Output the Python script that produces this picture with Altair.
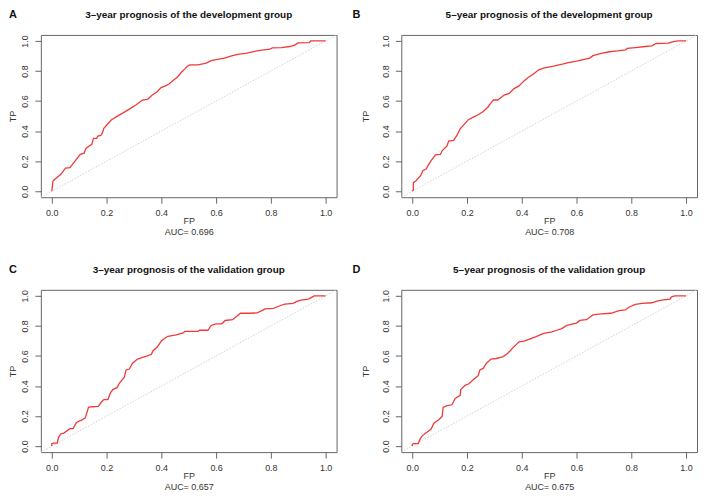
import altair as alt
import pandas as pd

FONT = "Liberation Sans"
TICKS = [0.0, 0.2, 0.4, 0.6, 0.8, 1.0]
DIAG = [-0.04, 1.04]

# (FP, TP) points
A_PTS = [(0, 0), (0.004, 0.066), (0.011, 0.079), (0.032, 0.111), (0.050, 0.153), (0.066, 0.157),
         (0.086, 0.203), (0.104, 0.245), (0.118, 0.253), (0.125, 0.286), (0.146, 0.312), (0.152, 0.352),
         (0.164, 0.352), (0.168, 0.367), (0.179, 0.371), (0.185, 0.389), (0.190, 0.419), (0.200, 0.439),
         (0.217, 0.474), (0.238, 0.498), (0.259, 0.520), (0.283, 0.546), (0.307, 0.574), (0.331, 0.607),
         (0.349, 0.611), (0.367, 0.640), (0.385, 0.662), (0.399, 0.690), (0.415, 0.701), (0.427, 0.712),
         (0.444, 0.738), (0.459, 0.760), (0.474, 0.793), (0.486, 0.814), (0.494, 0.830), (0.504, 0.841),
         (0.534, 0.841), (0.564, 0.852), (0.582, 0.869), (0.600, 0.876), (0.630, 0.886), (0.660, 0.902),
         (0.684, 0.913), (0.708, 0.917), (0.732, 0.928), (0.767, 0.939), (0.797, 0.945), (0.805, 0.954),
         (0.839, 0.956), (0.869, 0.963), (0.887, 0.972), (0.899, 0.987), (0.940, 0.989), (0.946, 1.0),
         (1.0, 1.0)]

B_PTS = [(0, 0), (0.004, 0.010), (0.004, 0.057), (0.013, 0.068), (0.031, 0.105), (0.039, 0.138),
         (0.051, 0.148), (0.059, 0.175), (0.069, 0.203), (0.085, 0.242), (0.103, 0.245), (0.109, 0.269),
         (0.127, 0.301), (0.133, 0.334), (0.151, 0.338), (0.163, 0.371), (0.175, 0.415), (0.189, 0.443),
         (0.205, 0.476), (0.223, 0.493), (0.241, 0.509), (0.259, 0.531), (0.276, 0.559), (0.288, 0.590),
         (0.297, 0.607), (0.312, 0.607), (0.336, 0.640), (0.354, 0.651), (0.372, 0.683), (0.390, 0.701),
         (0.408, 0.734), (0.426, 0.760), (0.444, 0.782), (0.462, 0.808), (0.480, 0.819), (0.516, 0.832),
         (0.552, 0.847), (0.570, 0.856), (0.600, 0.865), (0.624, 0.876), (0.648, 0.886), (0.660, 0.902),
         (0.690, 0.917), (0.720, 0.928), (0.750, 0.934), (0.779, 0.941), (0.785, 0.950), (0.815, 0.956),
         (0.851, 0.963), (0.875, 0.967), (0.891, 0.983), (0.935, 0.985), (0.953, 0.996), (0.971, 1.0),
         (1.0, 1.0)]

C_PTS = [(0, 0), (0, 0.017), (0.006, 0.020), (0.020, 0.020), (0.024, 0.055), (0.032, 0.081),
         (0.044, 0.087), (0.066, 0.116), (0.078, 0.116), (0.090, 0.157), (0.110, 0.175), (0.122, 0.186),
         (0.134, 0.258), (0.146, 0.262), (0.170, 0.264), (0.182, 0.295), (0.190, 0.310), (0.205, 0.310),
         (0.214, 0.354), (0.223, 0.376), (0.238, 0.389), (0.247, 0.419), (0.265, 0.459), (0.271, 0.507),
         (0.283, 0.513), (0.295, 0.552), (0.313, 0.579), (0.331, 0.590), (0.349, 0.600), (0.364, 0.611),
         (0.369, 0.633), (0.385, 0.659), (0.400, 0.699), (0.415, 0.721), (0.424, 0.731), (0.450, 0.738),
         (0.480, 0.753), (0.486, 0.764), (0.534, 0.764), (0.540, 0.771), (0.570, 0.771), (0.582, 0.803),
         (0.600, 0.814), (0.621, 0.814), (0.633, 0.836), (0.660, 0.841), (0.671, 0.858), (0.689, 0.884),
         (0.719, 0.884), (0.749, 0.886), (0.767, 0.902), (0.779, 0.913), (0.809, 0.917), (0.833, 0.934),
         (0.851, 0.945), (0.881, 0.950), (0.893, 0.961), (0.910, 0.972), (0.937, 0.978), (0.952, 0.993),
         (0.958, 1.0), (1.0, 1.0)]

D_PTS = [(0, 0), (0, 0.011), (0.005, 0.017), (0.022, 0.017), (0.029, 0.048), (0.037, 0.070),
         (0.055, 0.094), (0.069, 0.114), (0.079, 0.153), (0.097, 0.175), (0.109, 0.197), (0.113, 0.258),
         (0.127, 0.269), (0.145, 0.275), (0.157, 0.317), (0.175, 0.338), (0.177, 0.376), (0.193, 0.404),
         (0.207, 0.415), (0.223, 0.441), (0.241, 0.469), (0.247, 0.507), (0.259, 0.517), (0.271, 0.552),
         (0.288, 0.579), (0.306, 0.583), (0.330, 0.594), (0.345, 0.611), (0.357, 0.633), (0.372, 0.662),
         (0.390, 0.694), (0.408, 0.699), (0.426, 0.710), (0.450, 0.727), (0.480, 0.750), (0.510, 0.760),
         (0.528, 0.771), (0.546, 0.782), (0.564, 0.803), (0.588, 0.814), (0.600, 0.819), (0.612, 0.836),
         (0.636, 0.841), (0.660, 0.873), (0.690, 0.880), (0.726, 0.884), (0.755, 0.902), (0.779, 0.906),
         (0.791, 0.924), (0.815, 0.943), (0.839, 0.950), (0.875, 0.954), (0.893, 0.965), (0.911, 0.972),
         (0.941, 0.978), (0.947, 0.993), (0.959, 1.0), (1.0, 1.0)]

LETTERS = ["A", "B", "C", "D"]
TITLES = ["3–year prognosis of the development group",
          "5–year prognosis of the development group",
          "3–year prognosis of the validation group",
          "5–year prognosis of the validation group"]
AUCS = ["AUC= 0.696", "AUC= 0.708", "AUC= 0.657", "AUC= 0.675"]
SERIES = [A_PTS, B_PTS, C_PTS, D_PTS]

W, H = 297, 163


def axes(i):
    left = i % 2 == 0
    x_axis = alt.Axis(values=TICKS, format=".1f", title=["FP", AUCS[i]],
                      labelOverlap=False, labelFlush=False,
                      titleY=19.5, titleBaseline="top", titleLineHeight=11,
                      titleAlign="center", titleX=W / 2)
    y_axis = alt.Axis(values=TICKS, format=".1f", title="TP", labelAngle=270,
                      labelOverlap=False, labelFlush=False,
                      labelAlign="center", labelBaseline="bottom",
                      titleAngle=270, titleBaseline="bottom", titleAlign="center",
                      titleX=-23 if left else -31, titleY=H / 2)
    return x_axis, y_axis


def panel(i):
    left = i % 2 == 0
    df = pd.DataFrame(SERIES[i], columns=["FP", "TP"])
    df["order"] = range(len(df))
    xs = alt.Scale(domain=DIAG, nice=False, zero=False)
    ys = alt.Scale(domain=DIAG, nice=False, zero=False)
    x_axis, y_axis = axes(i)
    diag = alt.Chart(pd.DataFrame({"FP": DIAG, "TP": DIAG})).mark_line(
        color="#d2d2d2", strokeDash=[1.5, 1.5], strokeWidth=1
    ).encode(x=alt.X("FP:Q", scale=xs, axis=x_axis),
             y=alt.Y("TP:Q", scale=ys, axis=y_axis))
    roc = alt.Chart(df).mark_line(color="#f03a3a", strokeWidth=1.3).encode(
        x=alt.X("FP:Q", scale=xs, axis=x_axis),
        y=alt.Y("TP:Q", scale=ys, axis=y_axis),
        order="order:Q")
    lab = alt.Chart(pd.DataFrame({"label": [LETTERS[i]]})).mark_text(
        font=FONT, fontSize=11, fontWeight="bold", align="left",
        baseline="alphabetic", color="#111"
    ).encode(x=alt.value(-32 if left else -49), y=alt.value(-17), text="label:N")
    ttl = alt.Chart(pd.DataFrame({"title": [TITLES[i]]})).mark_text(
        font=FONT, fontSize=10, fontWeight="bold", align="center",
        baseline="alphabetic", color="#111"
    ).encode(x=alt.value(W / 2), y=alt.value(-17), text="title:N")
    return alt.layer(diag, roc, lab, ttl).properties(width=W, height=H)


chart = alt.concat(
    *[panel(i) for i in range(4)], columns=2,
    spacing={"row": 93, "column": 65}, bounds="flush"
).properties(
    padding={"left": 0, "top": -1, "right": 0, "bottom": -2}
).configure_view(
    stroke="#666666", strokeWidth=1
).configure_axis(
    domain=False, grid=False, tickSize=6, tickColor="#666666", tickWidth=1,
    labelFont=FONT, labelFontSize=9, labelColor="#333333", labelPadding=5,
    labelOverlap=False,
    titleFont=FONT, titleFontSize=9, titleFontWeight="normal", titleColor="#333333"
).configure_axisY(labelOverlap=False)

chart.save("out.html", embed_options={"renderer": "svg", "actions": False})
